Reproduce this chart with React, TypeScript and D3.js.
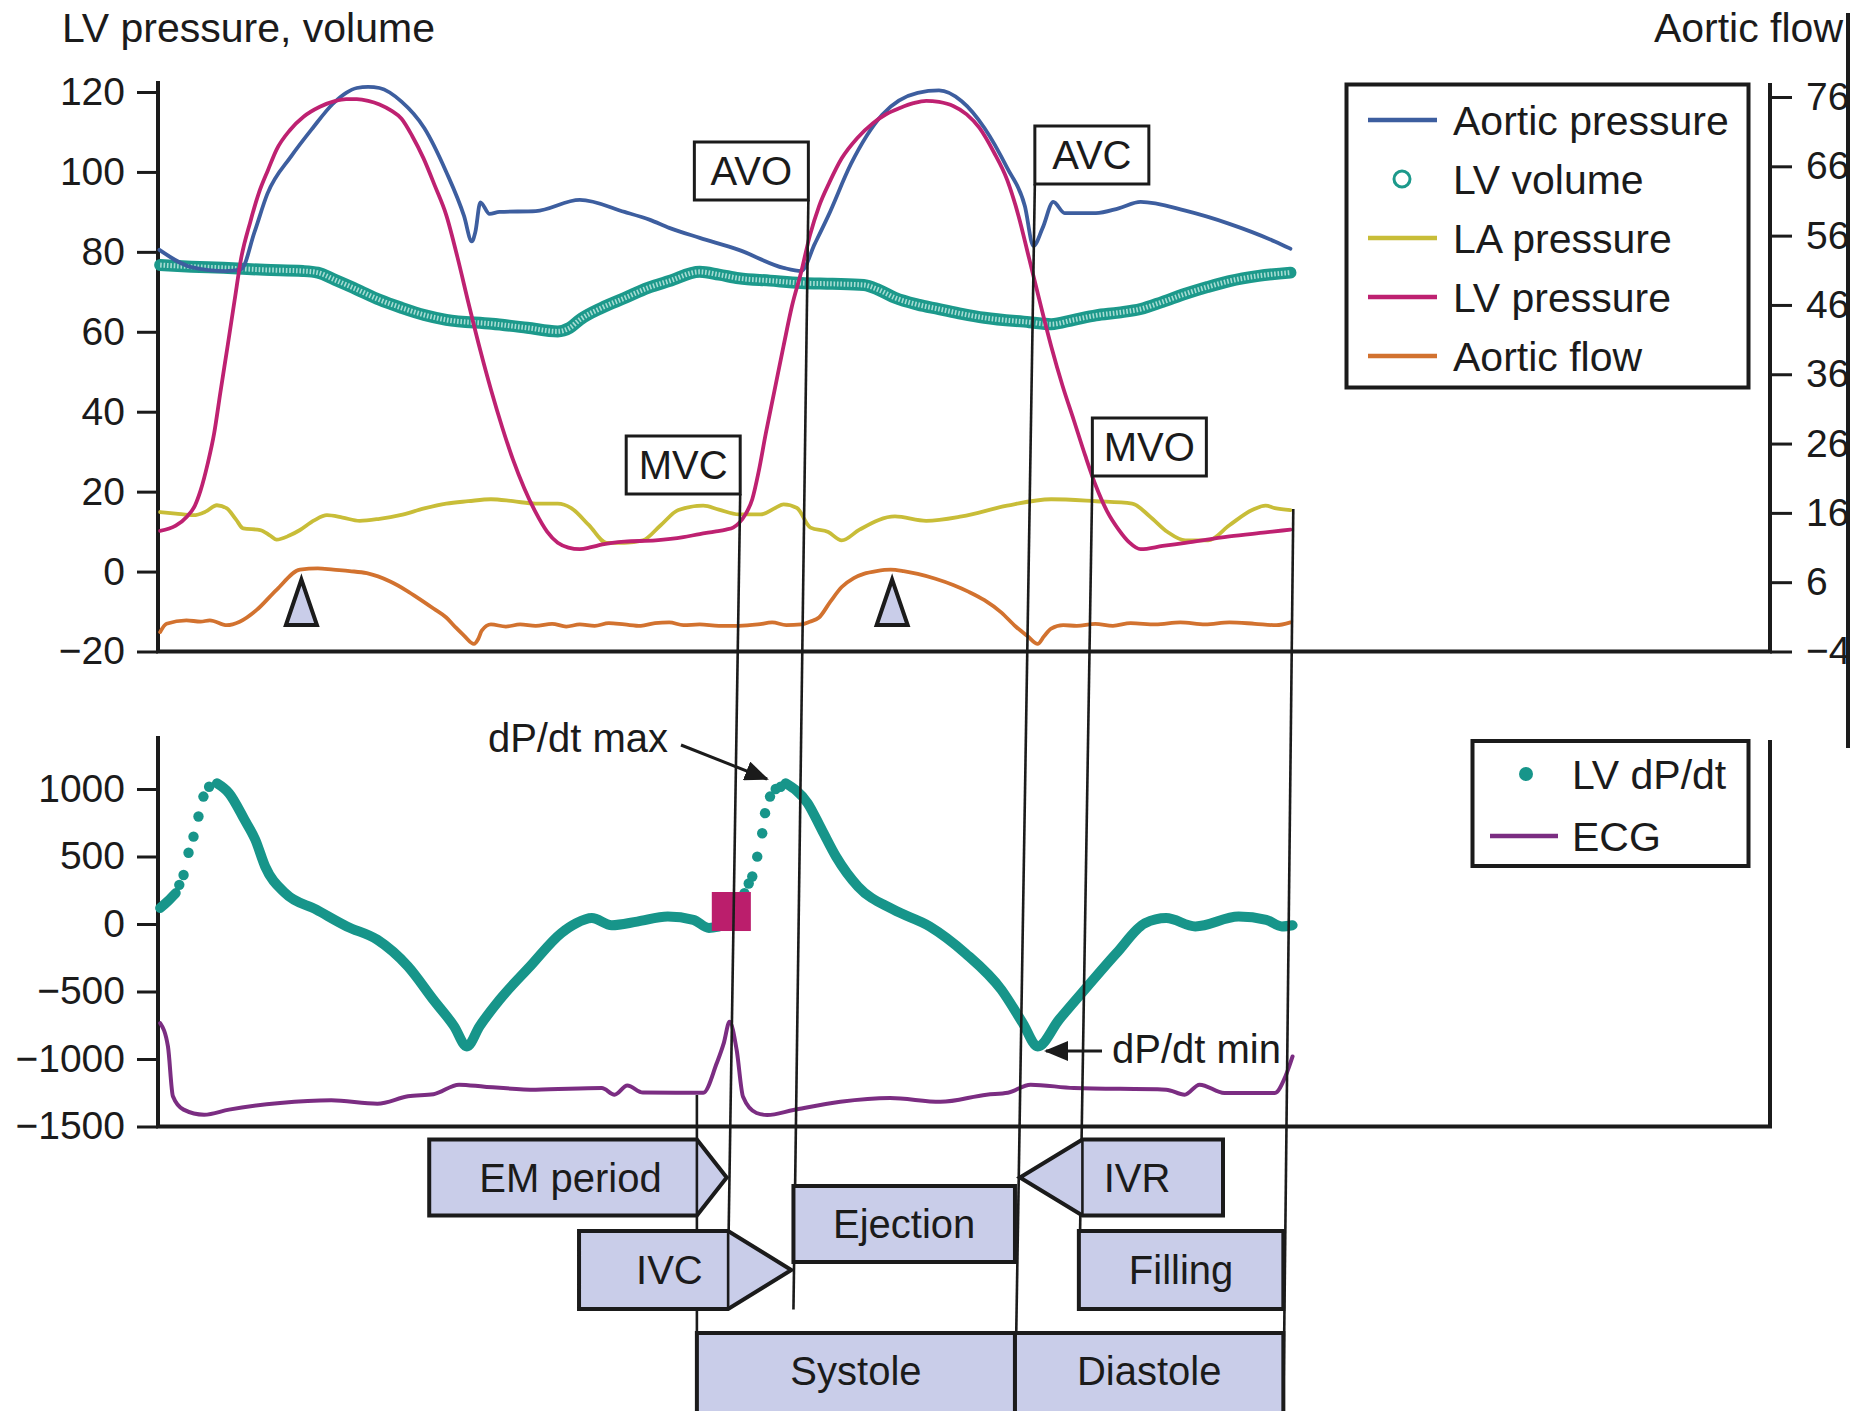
import React, { useRef, useEffect } from 'react';
import * as d3 from 'd3';

type Pt = [number, number];

const W = 1865;
const H = 1411;

// tick values of the three axes
const pressureTicks = [-20, 0, 20, 40, 60, 80, 100, 120];
const flowTicks = [-4, 6, 16, 26, 36, 46, 56, 66, 76];
const dpdtTicks = [-1500, -1000, -500, 0, 500, 1000];

// traces: [time ms, value]
const aorticPressure: Pt[] = [
  [2, 80.5], [47, 76.2], [95, 75.2], [117, 75.6], [136, 85], [154, 94.5], [188, 104], [218, 111],
  [246, 117], [265, 119.8], [280, 121], [296, 121.3], [312, 121], [343, 117.6], [375, 111], [406, 100],
  [431, 89], [442, 82.6], [447, 85], [454, 92.4], [467, 89.5], [481, 90], [532, 90.2], [594, 93],
  [657, 90], [693, 88], [720, 86], [763, 83.5], [818, 80.5], [881, 76], [906, 75.2], [925, 82],
  [944, 89], [976, 102], [1020, 114.3], [1070, 119.8], [1100, 120.4], [1132, 117.7], [1164, 111],
  [1196, 101], [1221, 91.4], [1233, 81.5], [1246, 86], [1261, 92.5], [1277, 89.7], [1321, 89.7],
  [1353, 90.9], [1384, 92.5], [1447, 90.3], [1509, 87], [1573, 82.6], [1595, 80.8]
];

const lvVolume: Pt[] = [
  [3, 76.7], [47, 76.3], [92, 76], [150, 75.5], [204, 75.2], [225, 74.8], [249, 73], [280, 70.6],
  [312, 68], [343, 66], [375, 64.2], [406, 63], [470, 62], [520, 61], [563, 60.1], [580, 61],
  [594, 63], [625, 66], [658, 68.5], [690, 71], [720, 72.7], [763, 75], [790, 74.3], [818, 73.4],
  [862, 72.8], [906, 72.2], [950, 72], [994, 71.7], [1015, 70.5], [1038, 68.5], [1070, 66.8],
  [1100, 65.7], [1132, 64.5], [1164, 63.5], [1227, 62.4], [1258, 61.9], [1290, 63], [1321, 64.1],
  [1353, 64.8], [1384, 65.7], [1415, 67.5], [1447, 69.5], [1478, 71.2], [1509, 72.7], [1550, 74],
  [1595, 74.8]
];

const laPressure: Pt[] = [
  [3, 14.9], [25, 14.5], [50, 14.1], [67, 15], [83, 16.6], [97, 15.8], [110, 13], [120, 10.8],
  [144, 10.4], [158, 9], [167, 8], [185, 9], [200, 10.4], [220, 12.8], [238, 14.1], [260, 13.5],
  [284, 12.7], [312, 13.2], [341, 14.1], [375, 15.8], [406, 17], [437, 17.6], [469, 18.1],
  [500, 17.6], [532, 17], [563, 17], [582, 15.9], [607, 11.6], [632, 7.2], [657, 7.2], [683, 7.8],
  [708, 11.6], [733, 15.4], [768, 16.5], [790, 15.5], [818, 14.3], [849, 14.3], [870, 16],
  [881, 16.8], [900, 15.9], [919, 11], [944, 9.9], [963, 7.8], [988, 10.5], [1038, 13.8],
  [1082, 12.7], [1132, 13.8], [1196, 16.5], [1258, 18.1], [1321, 17.6], [1372, 17], [1397, 13.8],
  [1422, 9.9], [1447, 7.8], [1479, 7.8], [1509, 11.6], [1541, 15.4], [1560, 16.5], [1573, 15.9],
  [1595, 15.4]
];

const lvPressure: Pt[] = [
  [3, 10.2], [25, 11.5], [41, 13.8], [52, 16.5], [60, 20.3], [70, 27], [79, 34.5], [88, 45],
  [98, 56.4], [108, 68], [117, 78.3], [130, 87.5], [142, 94.7], [155, 100.5], [167, 105.6],
  [186, 110.5], [205, 113.8], [228, 116.3], [249, 117.7], [265, 118.2], [280, 118.2], [296, 117.8],
  [312, 116.9], [328, 115.4], [343, 113.3], [358, 109], [374, 103.4], [390, 96.5], [406, 89.2],
  [422, 78.5], [437, 67.4], [453, 56], [469, 45.5], [485, 36], [500, 28], [516, 20.8], [532, 14.8],
  [548, 10], [563, 7.2], [578, 6], [594, 5.6], [610, 6.1], [626, 6.8], [657, 7.5], [701, 7.8],
  [740, 8.6], [763, 9.4], [784, 10], [800, 10.5], [810, 11], [818, 12.1], [828, 14.5], [837, 18.1],
  [846, 25], [856, 34.5], [868, 45], [881, 56.4], [893, 66.5], [906, 75], [918, 84], [931, 91.4],
  [946, 97.5], [963, 103.4], [985, 108.5], [1007, 112.2], [1026, 114.5], [1045, 116], [1064, 117.2],
  [1082, 117.8], [1100, 117.5], [1120, 116.5], [1139, 114.4], [1157, 111], [1177, 105], [1196, 98],
  [1212, 89], [1227, 78.3], [1242, 67.5], [1258, 56.4], [1274, 46.5], [1290, 37.8], [1306, 29],
  [1321, 21.4], [1337, 15], [1353, 10.5], [1368, 7.3], [1384, 5.6], [1415, 6.4], [1447, 7.2],
  [1509, 8.8], [1560, 9.8], [1595, 10.5]
];

// right axis
const aorticFlow: Pt[] = [
  [3, -1.2], [12, 0], [40, 0.5], [60, 0.3], [73, 0.5], [97, -0.2], [115, 0.3], [139, 2], [167, 4.9],
  [200, 7.8], [225, 8], [247, 7.8], [270, 7.6], [294, 7.3], [327, 6.1], [350, 4.8], [368, 3.6],
  [388, 2.2], [406, 0.9], [420, -0.6], [431, -1.7], [445, -2.9], [451, -2.2], [456, -1], [469, -0.1],
  [490, -0.4], [510, -0.1], [532, -0.3], [555, 0], [575, -0.4], [594, -0.1], [615, -0.3], [635, 0.1],
  [657, -0.1], [680, -0.3], [700, 0.1], [720, 0.2], [740, -0.2], [763, -0.1], [790, -0.3],
  [818, -0.3], [845, -0.1], [865, 0.2], [885, -0.2], [906, -0.1], [918, 0.3], [931, 0.9], [947, 3.2],
  [963, 5.3], [980, 6.6], [994, 7.2], [1012, 7.6], [1032, 7.8], [1050, 7.6], [1070, 7.2], [1095, 6.5],
  [1120, 5.6], [1142, 4.6], [1164, 3.4], [1188, 1.6], [1208, -0.4], [1225, -1.8], [1239, -2.9],
  [1248, -1.8], [1258, -0.7], [1275, -0.2], [1294, -0.3], [1320, 0], [1345, -0.3], [1370, 0.1],
  [1405, -0.1], [1440, 0.2], [1475, -0.1], [1509, 0.2], [1545, 0], [1575, -0.2], [1595, 0.2]
];

// lower panel
const ecg: Pt[] = [
  [3, -734], [14, -907], [21, -1276], [36, -1375], [65, -1413], [100, -1375], [172, -1326],
  [244, -1306], [309, -1331], [352, -1276], [388, -1261], [424, -1190], [460, -1205], [532, -1227],
  [625, -1215], [643, -1264], [661, -1197], [683, -1249], [768, -1250], [787, -1030], [797, -880],
  [805, -724], [815, -933], [824, -1280], [843, -1400], [858, -1415], [895, -1378], [961, -1317],
  [1031, -1289], [1102, -1317], [1167, -1264], [1197, -1250], [1229, -1190], [1290, -1215],
  [1420, -1227], [1446, -1264], [1467, -1190], [1502, -1252], [1573, -1252], [1588, -1128],
  [1598, -981]
];

// dense part of the dP/dt trace; null marks the upstrokes where single samples show
const dpdtTrace: (Pt | null)[] = [
  [3, 118], [14, 170], [25, 229],
  null,
  [83, 1042], [100, 969], [122, 771], [137, 625], [151, 425], [179, 229], [223, 106], [266, -18],
  [309, -117], [352, -314], [388, -562], [417, -757], [435, -907], [453, -757], [481, -562],
  [524, -314], [568, -67], [589, 6], [611, 44], [639, -9], [675, 18], [718, 55], [754, 31],
  [776, -29], [790, -20],
  null,
  [884, 1042], [915, 895], [935, 697], [955, 499], [986, 277], [1036, 106], [1087, -18],
  [1137, -216], [1188, -488], [1218, -734], [1239, -907], [1269, -709], [1309, -463], [1350, -216],
  [1390, 6], [1420, 44], [1461, -18], [1522, 55], [1561, 31], [1583, -18], [1598, -9]
];

const dpdtSamples: Pt[] = [
  [30, 290], [36, 363], [43, 528], [50, 647], [57, 796], [64, 944], [72, 1017],
  [820, 160], [826, 229], [832, 300], [837, 352], [844, 499], [851, 672], [855, 821], [862, 944],
  [870, 1000], [877, 1017]
];

const flowPeaks = [202, 1034];
const qrsMark = { start: 780, end: 835, low: -52, high: 237 };

// event lines: time where they leave the label and where they end below
const events = [
  { id: 'onset', top: 759, bottom: 759 },
  { id: 'MVC', top: 820, bottom: 802 },
  { id: 'AVO', top: 916, bottom: 895 },
  { id: 'AVC', top: 1235, bottom: 1207 },
  { id: 'MVO', top: 1316, bottom: 1297 },
  { id: 'end', top: 1599, bottom: 1585 }
];

const phases = [
  { label: 'EM period', start: 382, end: 759, tip: 801, row: 0 },
  { label: 'IVC', start: 593, end: 803, tip: 892, row: 2 },
  { label: 'Ejection', start: 895, end: 1207, row: 1 },
  { label: 'IVR', start: 1302, end: 1500, tip: 1214, row: 0 },
  { label: 'Filling', start: 1297, end: 1585, row: 2 },
  { label: 'Systole', start: 759, end: 1207, row: 3 },
  { label: 'Diastole', start: 1207, end: 1585, row: 3 }
];

const topLegend = ['Aortic pressure', 'LV volume', 'LA pressure', 'LV pressure', 'Aortic flow'];
const bottomLegend = ['LV dP/dt', 'ECG'];

const App = () => {
  const ref = useRef<SVGSVGElement>(null);

  useEffect(() => {
    const root = d3.select(ref.current);
    root.selectAll('*').remove();
    const font = '"Liberation Sans", Arial, Helvetica, sans-serif';
    const ink = '#1b1b1b';
    const colors: Record<string, string> = {
      'Aortic pressure': '#3d5e9f',
      'LV volume': '#1c998b',
      'LA pressure': '#c8bd38',
      'LV pressure': '#be2171',
      'Aortic flow': '#d2722f',
      'LV dP/dt': '#17958a',
      'ECG': '#7b2d82'
    };
    const boxFill = '#c9cde9';

    const defs = root.append('defs');
    defs.append('clipPath').attr('id', 'edgeClip')
      .append('rect').attr('x', 0).attr('y', 0).attr('width', 1846).attr('height', H);
    defs.append('marker')
      .attr('id', 'arrowHead')
      .attr('viewBox', '0 0 12 10')
      .attr('refX', 11).attr('refY', 5)
      .attr('markerWidth', 24).attr('markerHeight', 20)
      .attr('markerUnits', 'userSpaceOnUse')
      .attr('orient', 'auto')
      .append('path').attr('d', 'M0,0 L12,5 L0,10 Z').attr('fill', ink);

    const svg = root.append('g').attr('font-family', font);

    const x = d3.scaleLinear().domain([0, 1600]).range([158, 1294]);
    const yP = d3.scaleLinear().domain([-20, 120]).range([651.5, 92]);
    const yF = d3.scaleLinear().domain([-4, 76]).range([651.5, 97]);
    const yD = d3.scaleLinear().domain([-1500, 1000]).range([1126.5, 789]);

    const styleAxis = (g: any) => {
      g.select('.domain').remove();
      g.selectAll('line').attr('stroke', ink).attr('stroke-width', 3);
      g.selectAll('text').attr('fill', ink).attr('font-size', 39).attr('font-family', font);
    };

    // axes
    svg.append('g').attr('transform', 'translate(158,0)')
      .call(d3.axisLeft(yP).tickValues(pressureTicks).tickSize(21).tickPadding(12).tickFormat(d3.format('d')))
      .call(styleAxis);
    svg.append('g').attr('transform', 'translate(1770,0)').attr('clip-path', 'url(#edgeClip)')
      .call(d3.axisRight(yF).tickValues(flowTicks).tickSize(22).tickPadding(14).tickFormat(d3.format('d')))
      .call(styleAxis);
    svg.append('g').attr('transform', 'translate(158,0)')
      .call(d3.axisLeft(yD).tickValues(dpdtTicks).tickSize(21).tickPadding(12).tickFormat(d3.format('d')))
      .call(styleAxis);

    // frames
    const frame = [
      [158, 81, 158, 651.5], [156, 651.5, 1772, 651.5], [1770, 83, 1770, 651.5],
      [158, 736, 158, 1126.5], [156, 1126.5, 1772, 1126.5], [1770, 740, 1770, 1126.5],
      [1848, 13, 1848, 748]
    ];
    svg.append('g').selectAll('line').data(frame).enter().append('line')
      .attr('x1', d => d[0]).attr('y1', d => d[1]).attr('x2', d => d[2]).attr('y2', d => d[3])
      .attr('stroke', ink).attr('stroke-width', 4);

    // titles
    svg.append('text').attr('x', 62).attr('y', 42).attr('font-size', 41).attr('fill', ink)
      .text('LV pressure, volume');
    svg.append('text').attr('x', 1843).attr('y', 42).attr('font-size', 41).attr('fill', ink)
      .attr('text-anchor', 'end').attr('clip-path', 'url(#edgeClip)').text('Aortic flow');

    const lineOn = (y: d3.ScaleLinear<number, number>) => d3.line<Pt>()
      .x(d => x(d[0])).y(d => y(d[1])).curve(d3.curveMonotoneX);

    const curves = svg.append('g').attr('fill', 'none').attr('stroke-linejoin', 'round').attr('stroke-linecap', 'round');

    // LV volume: dense ring markers drawn as a hatched band
    curves.append('path').attr('d', lineOn(yP)(lvVolume))
      .attr('stroke', colors['LV volume']).attr('stroke-width', 12);
    curves.append('path').attr('d', lineOn(yP)(lvVolume))
      .attr('stroke', '#a6dcd3').attr('stroke-width', 5).attr('stroke-linecap', 'butt')
      .attr('stroke-dasharray', '1.6 1.8');

    curves.append('path').attr('d', lineOn(yP)(laPressure))
      .attr('stroke', colors['LA pressure']).attr('stroke-width', 3.8);
    curves.append('path').attr('d', lineOn(yF)(aorticFlow))
      .attr('stroke', colors['Aortic flow']).attr('stroke-width', 3.8);
    curves.append('path').attr('d', lineOn(yP)(aorticPressure))
      .attr('stroke', colors['Aortic pressure']).attr('stroke-width', 3.8);
    curves.append('path').attr('d', lineOn(yP)(lvPressure))
      .attr('stroke', colors['LV pressure']).attr('stroke-width', 3.8);

    // lower panel traces
    curves.append('path').attr('d', lineOn(yD)(ecg))
      .attr('stroke', colors['ECG']).attr('stroke-width', 4);
    const dpdtLine = d3.line<Pt | null>()
      .defined(d => d !== null)
      .x(d => x((d as Pt)[0])).y(d => yD((d as Pt)[1]))
      .curve(d3.curveMonotoneX);
    curves.append('path').attr('d', dpdtLine(dpdtTrace))
      .attr('stroke', colors['LV dP/dt']).attr('stroke-width', 10);
    svg.append('g').selectAll('circle').data(dpdtSamples).enter().append('circle')
      .attr('cx', d => x(d[0])).attr('cy', d => yD(d[1])).attr('r', 5.2)
      .attr('fill', colors['LV dP/dt']);

    // QRS marker
    svg.append('rect')
      .attr('x', x(qrsMark.start)).attr('y', yD(qrsMark.high))
      .attr('width', x(qrsMark.end) - x(qrsMark.start)).attr('height', yD(qrsMark.low) - yD(qrsMark.high))
      .attr('fill', '#bb1e6c');

    // peak flow triangles
    svg.append('g').selectAll('path').data(flowPeaks).enter().append('path')
      .attr('d', t => {
        const cx = x(t);
        const top = yP(-2);
        const base = yP(-13.4);
        return `M${cx},${top} L${cx + 15.5},${base} L${cx - 15.5},${base} Z`;
      })
      .attr('fill', boxFill).attr('stroke', ink).attr('stroke-width', 4).attr('stroke-linejoin', 'miter');

    // event lines
    const eventSpan: Record<string, [number, number]> = {
      onset: [1095, 1411], MVC: [494, 1309.5], AVO: [200, 1309.5],
      AVC: [184, 1411], MVO: [476, 1306], end: [509, 1411]
    };
    svg.append('g').selectAll('line').data(events).enter().append('line')
      .attr('x1', d => x(d.top)).attr('y1', d => eventSpan[d.id][0])
      .attr('x2', d => x(d.bottom)).attr('y2', d => eventSpan[d.id][1])
      .attr('stroke', ink).attr('stroke-width', 2.6);

    // phase boxes, drawn over the event lines
    const rows = [[1139.5, 1215.5], [1186, 1262], [1231, 1309], [1333, 1430]];
    const phaseG = svg.append('g');
    phases.forEach(p => {
      const x0 = x(p.start);
      const x1 = x(p.end);
      const [y0, y1] = rows[p.row];
      const ym = (y0 + y1) / 2;
      let d = `M${x0},${y0} H${x1} V${y1} H${x0} Z`;
      let cx = (x0 + x1) / 2;
      let joint: number | null = null;
      if (p.tip !== undefined) {
        const tip = x(p.tip);
        if (tip > x1) {
          d = `M${x0},${y0} H${x1} L${tip},${ym} L${x1},${y1} H${x0} Z`;
          cx = ((x0 + x1) / 2 + (x0 + tip) / 2) / 2;
          joint = x1;
        } else {
          d = `M${x1},${y0} H${x0} L${tip},${ym} L${x0},${y1} H${x1} Z`;
          cx = ((x0 + x1) / 2 + (tip + x1) / 2) / 2;
          joint = x0;
        }
      }
      phaseG.append('path').attr('d', d).attr('fill', boxFill)
        .attr('stroke', ink).attr('stroke-width', 4).attr('stroke-linejoin', 'miter');
      if (joint !== null) {
        phaseG.append('line').attr('x1', joint).attr('x2', joint).attr('y1', y0).attr('y2', y1)
          .attr('stroke', ink).attr('stroke-width', 2.6);
      }
      phaseG.append('text').attr('x', cx).attr('y', p.row === 3 ? 1371 : ym)
        .attr('dy', '0.36em').attr('text-anchor', 'middle').attr('font-size', 40).attr('fill', ink)
        .text(p.label);
    });

    // valve labels
    const valveBoxes: Record<string, { side: string; top: number }> = {
      AVO: { side: 'left', top: 142 }, AVC: { side: 'right', top: 126 },
      MVC: { side: 'left', top: 436 }, MVO: { side: 'right', top: 418 }
    };
    const labelG = svg.append('g');
    events.filter(e => valveBoxes[e.id]).forEach(e => {
      const b = valveBoxes[e.id];
      const bw = 114, bh = 58;
      const lx = b.side === 'left' ? x(e.top) - bw : x(e.top);
      labelG.append('rect').attr('x', lx).attr('y', b.top).attr('width', bw).attr('height', bh)
        .attr('fill', '#fff').attr('stroke', ink).attr('stroke-width', 3);
      labelG.append('text').attr('x', lx + bw / 2).attr('y', b.top + bh / 2).attr('dy', '0.36em')
        .attr('text-anchor', 'middle').attr('font-size', 40).attr('fill', ink).text(e.id);
    });

    // dP/dt annotations
    svg.append('text').attr('x', 668).attr('y', 752).attr('text-anchor', 'end')
      .attr('font-size', 40).attr('fill', ink).text('dP/dt max');
    svg.append('line').attr('x1', 681).attr('y1', 745).attr('x2', 767).attr('y2', 779)
      .attr('stroke', ink).attr('stroke-width', 3).attr('marker-end', 'url(#arrowHead)');
    svg.append('text').attr('x', 1112).attr('y', 1063)
      .attr('font-size', 40).attr('fill', ink).text('dP/dt min');
    svg.append('line').attr('x1', 1102).attr('y1', 1051).attr('x2', 1046).attr('y2', 1051)
      .attr('stroke', ink).attr('stroke-width', 3).attr('marker-end', 'url(#arrowHead)');

    // upper legend
    const lg = svg.append('g');
    lg.append('rect').attr('x', 1346.5).attr('y', 84.5).attr('width', 402).attr('height', 303)
      .attr('fill', '#fff').attr('stroke', ink).attr('stroke-width', 4);
    topLegend.forEach((name, i) => {
      const cy = 120 + i * 59;
      if (name === 'LV volume') {
        lg.append('circle').attr('cx', 1402).attr('cy', cy).attr('r', 8)
          .attr('fill', 'none').attr('stroke', colors[name]).attr('stroke-width', 3);
      } else {
        lg.append('line').attr('x1', 1368).attr('x2', 1437).attr('y1', cy).attr('y2', cy)
          .attr('stroke', colors[name]).attr('stroke-width', 4.5);
      }
      lg.append('text').attr('x', 1453).attr('y', cy).attr('dy', '0.36em')
        .attr('font-size', 41).attr('fill', ink).text(name);
    });

    // lower legend
    const lg2 = svg.append('g');
    lg2.append('rect').attr('x', 1472.5).attr('y', 741).attr('width', 276).attr('height', 125)
      .attr('fill', '#fff').attr('stroke', ink).attr('stroke-width', 4);
    bottomLegend.forEach((name, i) => {
      const cy = 774 + i * 62;
      if (name === 'LV dP/dt') {
        lg2.append('circle').attr('cx', 1526).attr('cy', cy).attr('r', 7).attr('fill', colors[name]);
      } else {
        lg2.append('line').attr('x1', 1490).attr('x2', 1558).attr('y1', cy).attr('y2', cy)
          .attr('stroke', colors[name]).attr('stroke-width', 4.5);
      }
      lg2.append('text').attr('x', 1572).attr('y', cy).attr('dy', '0.36em')
        .attr('font-size', 41).attr('fill', ink).text(name);
    });
  }, []);

  return (
    <svg ref={ref} width={W} height={H}
      style={{ position: 'absolute', left: 0, top: 0, background: '#fff', display: 'block' }} />
  );
};

export default App;
